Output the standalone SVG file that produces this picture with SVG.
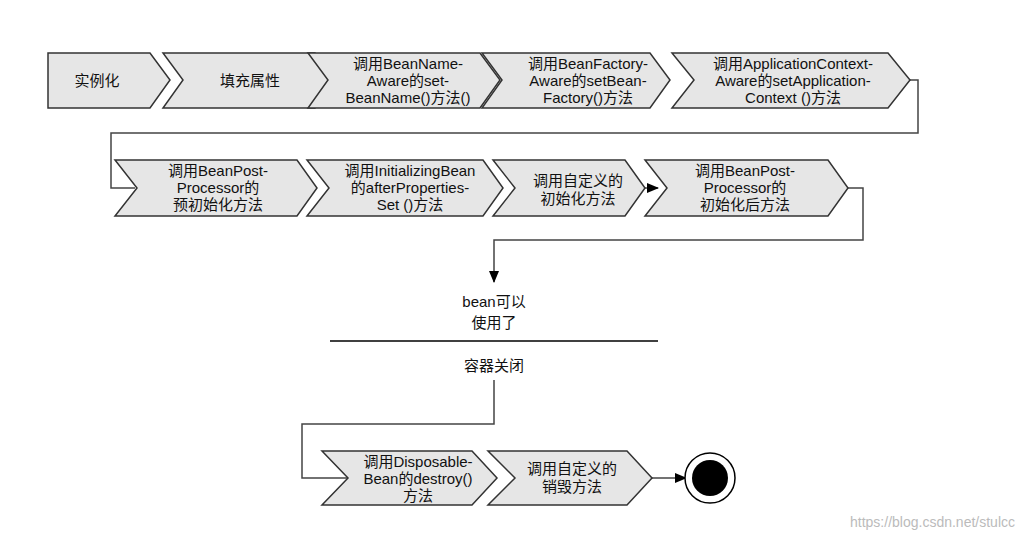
<svg xmlns="http://www.w3.org/2000/svg" width="1026" height="539" viewBox="0 0 1026 539">
<defs>
<marker id="ah" markerWidth="12" markerHeight="10" refX="11" refY="5" orient="auto" markerUnits="userSpaceOnUse"><path d="M0,0 L12,5 L0,10 Z" fill="#000"/></marker>
<style>
.s{fill:#e6e6e6;stroke:#333;stroke-width:1.5}
.t{font-family:"Liberation Sans","Noto Sans CJK SC",sans-serif;font-size:15px;fill:#111;text-anchor:middle}
.c{fill:none;stroke:#444;stroke-width:1.5}
</style>
</defs>
<rect width="1026" height="539" fill="#fff"/>
<g id="connectors">
<path class="c" d="M910,80 H918 V133 H111 V188 H135"/>
<path class="c" d="M645,188 H658" marker-end="url(#ah)"/>
<path class="c" d="M848,188 H863 V240 H494 V282" marker-end="url(#ah)"/>
<path class="c" d="M494,380 V424 H302 V478 H348"/>
<path class="c" d="M652,478 H686" stroke="#000" marker-end="url(#ah)"/>
<line x1="330" y1="341" x2="658" y2="341" stroke="#000" stroke-width="1.5"/>
</g>
<g id="n1"><path class="s" d="M48,53 H150 L170,80 L150,108 H48 Z"/><text class="t" x="97" y="86">实例化</text></g>
<g id="n2"><path class="s" d="M163,53 H315 L335,80 L315,108 H163 L183,80 Z"/><text class="t" x="250" y="86">填充属性</text></g>
<g id="n3"><path class="s" d="M308,53 H480 L500,80 L480,108 H308 L328,80 Z"/><text class="t" x="408" y="69">调用BeanName-</text><text class="t" x="408" y="86">Aware的set-</text><text class="t" x="408" y="103">BeanName()方法()</text></g>
<g id="n4"><path class="s" d="M482,53 H650 L670,80 L650,108 H482 L502,80 Z"/><text class="t" x="588" y="69">调用BeanFactory-</text><text class="t" x="588" y="86">Aware的setBean-</text><text class="t" x="588" y="103">Factory()方法</text></g>
<g id="n5"><path class="s" d="M672,53 H888 L910,80 L888,108 H672 L694,80 Z"/><text class="t" x="793" y="69">调用ApplicationContext-</text><text class="t" x="793" y="86">Aware的setApplication-</text><text class="t" x="793" y="103">Context ()方法</text></g>
<g id="n6"><path class="s" d="M115,160 H297 L317,188 L297,216 H115 L137,188 Z"/><text class="t" x="218" y="176">调用BeanPost-</text><text class="t" x="218" y="193">Processor的</text><text class="t" x="218" y="210">预初始化方法</text></g>
<g id="n7"><path class="s" d="M307,160 H483 L503,188 L483,216 H307 L329,188 Z"/><text class="t" x="410" y="176">调用InitializingBean</text><text class="t" x="410" y="193">的afterProperties-</text><text class="t" x="410" y="210">Set ()方法</text></g>
<g id="n8"><path class="s" d="M493,160 H625 L645,188 L625,216 H493 L515,188 Z"/><text class="t" x="578" y="186">调用自定义的</text><text class="t" x="578" y="204">初始化方法</text></g>
<g id="n9"><path class="s" d="M645,160 H828 L848,188 L828,216 H645 L667,188 Z"/><text class="t" x="745" y="176">调用BeanPost-</text><text class="t" x="745" y="193">Processor的</text><text class="t" x="745" y="210">初始化后方法</text></g>
<g id="n10"><text class="t" x="494" y="307">bean可以</text><text class="t" x="494" y="328">使用了</text><text class="t" x="494" y="371">容器关闭</text></g>
<g id="n11"><path class="s" d="M322,451 H472 L497,478 L472,505 H322 L348,478 Z"/><text class="t" x="418" y="467">调用Disposable-</text><text class="t" x="418" y="484">Bean的destroy()</text><text class="t" x="418" y="501">方法</text></g>
<g id="n12"><path class="s" d="M488,451 H627 L652,478 L627,505 H488 L515,478 Z"/><text class="t" x="572" y="474">调用自定义的</text><text class="t" x="572" y="492">销毁方法</text></g>
<g id="end"><circle cx="710" cy="478" r="25" fill="#fff" stroke="#000" stroke-width="1.5"/><circle cx="710" cy="478" r="18" fill="#000"/></g>
<text x="1015" y="527" font-family="Liberation Sans,sans-serif" font-size="14" fill="#bbb" text-anchor="end">https://blog.csdn.net/stulcc</text>
</svg>
